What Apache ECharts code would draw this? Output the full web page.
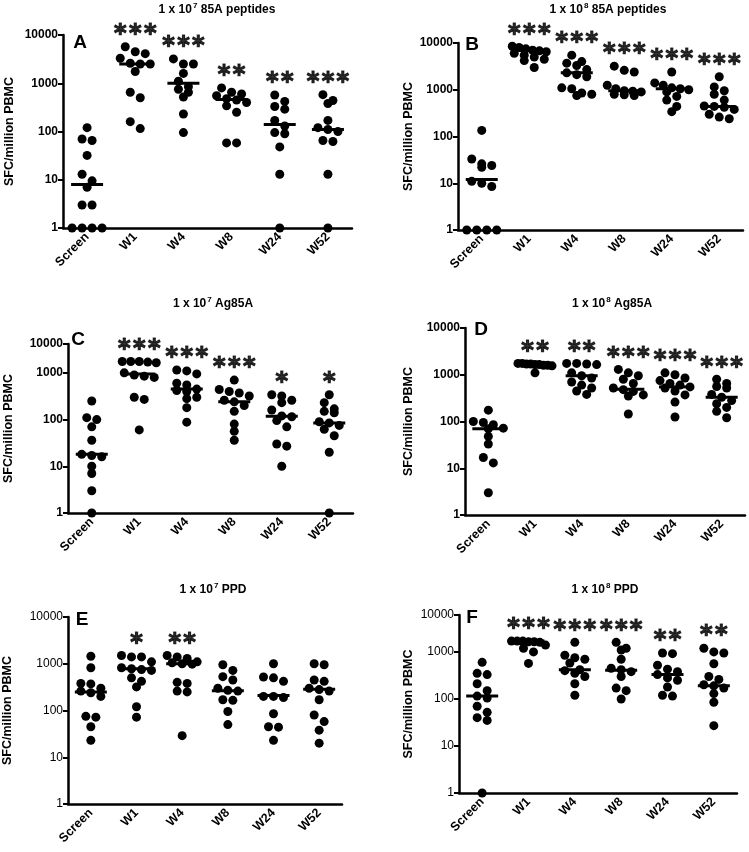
<!DOCTYPE html>
<html>
<head>
<meta charset="utf-8">
<script src="https://cdn.jsdelivr.net/npm/echarts@6/dist/echarts.min.js"></script>
<style>
html, body { margin: 0; background: #fff; }
#chart { width: 749px; height: 852px; }
</style>
</head>
<body>
<div id="chart"></div>
<script>
// categories and panel texts
const categories = ["Screen", "W1", "W4", "W8", "W24", "W52"];
const letters = ["A", "B", "C", "D", "E", "F"];
const titleExp = ["7", "8", "7", "8", "7", "8"];
const titleName = ["85A peptides", "85A peptides", "Ag85A", "Ag85A", "PPD", "PPD"];
const yTicks = [1, 10, 100, 1000, 10000];

// SFC/million PBMC, one list per time point
const aValues = [
  [120, 70, 65, 32, 13, 9.5, 7, 3, 3, 1, 1, 1, 1],
  [5700, 4500, 4100, 3300, 2600, 2500, 2500, 1750, 650, 500, 160, 115],
  [3200, 2500, 2500, 1600, 1100, 850, 750, 650, 520, 230, 95],
  [800, 650, 600, 550, 480, 450, 400, 340, 250, 58, 58],
  [570, 420, 330, 290, 170, 130, 95, 90, 48, 13, 1],
  [580, 440, 380, 170, 120, 110, 100, 65, 62, 13, 1]
];
const aMedians = [8, 2500, 1000, 460, 140, 110];
const aStars = ["", "***", "***", "**", "**", "***"];

const bValues = [
  [135, 33, 26, 24, 22, 11, 10, 8.5, 1, 1, 1, 1],
  [8500, 8000, 7500, 7000, 6800, 6500, 6000, 5500, 5000, 4500, 4200, 3000],
  [5500, 4000, 3700, 3300, 2700, 2300, 2100, 1900, 1100, 1050, 850, 800, 750],
  [3200, 2600, 2400, 1250, 1050, 950, 930, 900, 800, 780, 750],
  [2400, 1400, 1250, 1100, 1050, 1000, 900, 720, 600, 440, 340],
  [1900, 1150, 950, 800, 600, 450, 440, 420, 380, 300, 260, 240]
];
const bMedians = [12, 6900, 2300, 950, 1050, 440];
const bStars = ["", "***", "***", "***", "***", "***"];

const cValues = [
  [250, 110, 100, 70, 36, 18, 17, 16, 10, 7, 3, 1],
  [1750, 1750, 1750, 1700, 1650, 1000, 900, 850, 800, 300, 270, 60],
  [1150, 1100, 950, 600, 550, 450, 420, 400, 300, 280, 180, 88],
  [700, 440, 400, 370, 320, 260, 240, 200, 150, 80, 56, 36],
  [340, 320, 260, 230, 160, 120, 115, 95, 70, 30, 27, 10],
  [340, 230, 170, 150, 140, 90, 85, 75, 62, 45, 20, 1]
];
const cMedians = [18, 950, 450, 240, 118, 85];
const cStars = ["", "***", "***", "***", "*", "*"];

const dValues = [
  [175, 100, 95, 85, 72, 70, 48, 33, 17, 13, 3],
  [1750, 1750, 1700, 1700, 1650, 1650, 1600, 1600, 1550, 1100],
  [1750, 1750, 1700, 1650, 1100, 950, 850, 700, 600, 520, 450, 380],
  [1300, 1100, 950, 800, 650, 520, 480, 440, 370, 350, 145],
  [1100, 1000, 850, 750, 650, 600, 550, 520, 450, 370, 260, 125],
  [800, 650, 560, 520, 380, 330, 280, 240, 200, 165, 120]
];
const dMedians = [70, 1650, 950, 490, 550, 330];
const dStars = ["", "**", "**", "***", "***", "***"];

const eValues = [
  [1450, 820, 380, 370, 300, 260, 240, 200, 75, 72, 45, 23],
  [1500, 1400, 1400, 1100, 820, 780, 750, 720, 500, 420, 320, 120, 72],
  [1500, 1400, 1300, 1100, 1050, 1000, 980, 400, 380, 260, 250, 29],
  [950, 720, 530, 450, 300, 270, 260, 170, 165, 95, 50],
  [1000, 520, 500, 420, 200, 200, 190, 85, 45, 44, 23],
  [1000, 950, 450, 420, 300, 280, 260, 170, 80, 58, 38, 20]
];
const eMedians = [250, 780, 1000, 265, 210, 285];
const eStars = ["", "*", "**", "", "", ""];

const fValues = [
  [600, 350, 330, 210, 150, 115, 105, 70, 52, 40, 35, 1],
  [1700, 1700, 1700, 1650, 1650, 1600, 1400, 1200, 1000, 570],
  [1600, 850, 750, 700, 580, 420, 400, 350, 300, 210, 120],
  [1600, 1200, 1100, 700, 450, 420, 380, 300, 170, 150, 100],
  [950, 920, 520, 430, 380, 330, 280, 250, 180, 120, 115],
  [1200, 1000, 950, 560, 300, 260, 200, 190, 170, 130, 85, 27]
];
const fMedians = [115, 1700, 420, 410, 330, 190];
const fStars = ["", "***", "***", "***", "**", "**"];

const allValues = [aValues, bValues, cValues, dValues, eValues, fValues];
const allMedians = [aMedians, bMedians, cMedians, dMedians, eMedians, fMedians];
const allStars = [aStars, bStars, cStars, dStars, eStars, fStars];

// panel geometry (pixels); C and F have a squeezed top decade in the original
const layouts = [
  { left: 63, top: 35, width: 289, height: 193, yMax: 10000, nameGap: 47, tx: 217, ty: 10, lx: 80, ly: 43, boldY: true },
  { left: 458, top: 43, width: 285, height: 187, yMax: 10000, nameGap: 43, tx: 608, ty: 10, lx: 472, ly: 45, boldY: true },
  { left: 68, top: 344, width: 285, height: 169, yMax: 4150, nameGap: 53, tx: 213, ty: 304, lx: 78, ly: 340, boldY: true },
  { left: 465, top: 328, width: 280, height: 187, yMax: 10000, nameGap: 50, tx: 612, ty: 304, lx: 481, ly: 330, boldY: true },
  { left: 68, top: 617, width: 274, height: 187, yMax: 10000, nameGap: 54, tx: 213, ty: 590, lx: 82, ly: 620, boldY: false },
  { left: 459, top: 615, width: 278, height: 178, yMax: 6100, nameGap: 44, tx: 605, ty: 590, lx: 472, ly: 618, boldY: false }
];

// spread points that sit on the same level side by side, like a dot plot
function spread(values, lay) {
  const pxDec = lay.height / Math.log10(lay.yMax);
  const catW = lay.width / categories.length;
  const sorted = values.slice().sort((a, b) => b - a);
  const rows = [];
  sorted.forEach(v => {
    const y = Math.log10(v) * pxDec;
    const row = rows[rows.length - 1];
    if (row && row.y0 - y < 7) row.vals.push(v);
    else rows.push({ y0: y, vals: [v] });
  });
  const out = [];
  rows.forEach(r => {
    const n = r.vals.length;
    const step = n > 1 ? Math.min(10, 34 / (n - 1)) : 0;
    r.vals.forEach((v, j) => out.push([((j - (n - 1) / 2) * step) / catW, v]));
  });
  return out;
}

const grid = [], xAxis = [], yAxis = [], series = [], graphic = [];

layouts.forEach((lay, k) => {
  grid.push({ left: lay.left, top: lay.top, width: lay.width, height: lay.height });
  xAxis.push({
    gridIndex: k,
    type: "category",
    data: categories,
    boundaryGap: true,
    axisLine: { lineStyle: { color: "#000", width: 2.5 } },
    axisTick: { alignWithLabel: true, length: 5, lineStyle: { color: "#000", width: 2 } },
    axisLabel: { interval: 0, rotate: 45, margin: 7, color: "#000", fontSize: 12.5, fontWeight: "bold", fontFamily: "Liberation Sans" }
  });
  xAxis.push({ gridIndex: k, type: "value", min: -0.5, max: 5.5, show: false });
  yAxis.push({
    gridIndex: k,
    type: "log",
    logBase: 10,
    min: 1,
    max: lay.yMax,
    name: "SFC/million PBMC",
    nameLocation: "middle",
    nameGap: lay.nameGap,
    nameTextStyle: { color: "#000", fontSize: 12.5, fontWeight: "bold", fontFamily: "Liberation Sans" },
    axisLine: { show: true, onZero: false, lineStyle: { color: "#000", width: 2.5 } },
    axisTick: { show: true, length: 5, lineStyle: { color: "#000", width: 2 } },
    splitLine: { show: false },
    axisLabel: {
      color: "#000",
      fontSize: 12,
      margin: 5,
      fontWeight: lay.boldY ? "bold" : "normal",
      fontFamily: "Liberation Sans",
      formatter: v => (v > 2000 ? String(yTicks[4]) : String(Math.round(v)))
    }
  });

  const values = allValues[k];
  const dots = [];
  values.forEach((group, i) => {
    spread(group, lay).forEach(p => dots.push([i + p[0], p[1]]));
  });
  series.push({
    type: "scatter",
    xAxisIndex: 2 * k + 1,
    yAxisIndex: k,
    symbolSize: 9,
    itemStyle: { color: "#000", opacity: 1 },
    data: dots,
    z: 2
  });
  series.push({
    type: "scatter",
    xAxisIndex: 2 * k + 1,
    yAxisIndex: k,
    symbol: "rect",
    symbolSize: [32, 3],
    itemStyle: { color: "#000", opacity: 1 },
    data: allMedians[k].map((m, i) => [i, m]),
    z: 3
  });
  const starData = [];
  allStars[k].forEach((s, i) => {
    if (s) starData.push({ value: [i, Math.max(...values[i])], name: s });
  });
  series.push({
    type: "scatter",
    xAxisIndex: 2 * k + 1,
    yAxisIndex: k,
    symbolSize: 1,
    itemStyle: { color: "rgba(0,0,0,0)" },
    data: starData,
    label: {
      show: true,
      position: "inside",
      offset: [0, -12],
      formatter: p => p.name.split("").join("\u200a"),
      color: "#000",
      fontSize: 24,
      fontWeight: "bold",
      fontFamily: "DejaVu Sans",
      textBorderColor: "#000",
      textBorderWidth: 1.2
    },
    z: 4
  });

  graphic.push({
    type: "text",
    x: lay.tx,
    y: lay.ty,
    style: {
      text: "{t|1 x 10}{s|" + titleExp[k] + "}{t| " + titleName[k] + "}",
      align: "center",
      verticalAlign: "middle",
      rich: {
        t: { fontSize: 12, fontWeight: "bold", fontFamily: "Liberation Sans", fill: "#000" },
        s: { fontSize: 8, fontWeight: "bold", fontFamily: "Liberation Sans", fill: "#000", padding: [0, 0, 8, 1] }
      }
    }
  });
  graphic.push({
    type: "text",
    x: lay.lx,
    y: lay.ly,
    style: {
      text: letters[k],
      align: "center",
      verticalAlign: "middle",
      fontSize: 19,
      fontWeight: "bold",
      fontFamily: "Liberation Sans",
      fill: "#000"
    }
  });
});

const chart = echarts.init(document.getElementById("chart"));
chart.setOption({
  animation: false,
  backgroundColor: "#fff",
  grid: grid,
  xAxis: xAxis,
  yAxis: yAxis,
  series: series,
  graphic: graphic
});
</script>
</body>
</html>
